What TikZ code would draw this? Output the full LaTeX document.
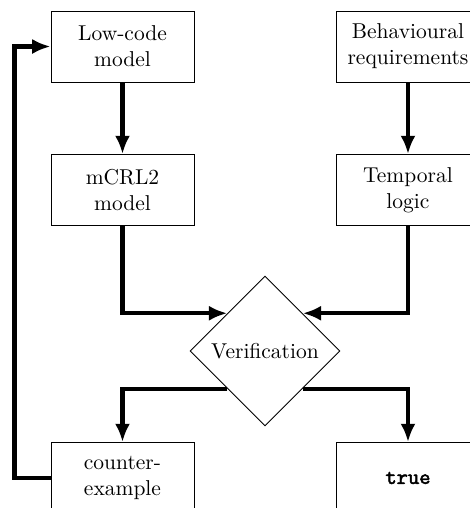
\documentclass[tikz,border=0pt]{standalone}
\usepackage{fontspec}
\newfontfamily\boldmono{Latin Modern Mono}[FakeBold=2.2]
\usetikzlibrary{shapes.geometric,arrows.meta}
\begin{document}
\begin{tikzpicture}[x=0.465pt,y=-0.465pt,
  stage/.style={draw, line width=0.45pt, minimum width=66.5pt, minimum height=33pt,
    align=center, inner sep=2pt, font=\normalsize},
  decision/.style={draw, diamond, aspect=1, line width=0.45pt, inner sep=0pt,
    minimum width=69.75pt, minimum height=69.75pt},
  flow/.style={line width=2pt, -{Latex[length=8.5pt,width=7pt]}}]
\useasboundingbox (0,0) rectangle (470,508);

\node[stage] (low)  at (122.5,46.5) {Low-code\\model};
\node[stage] (mcrl) at (122.5,190)  {mCRL2\\model};
\node[stage] (beh)  at (408,46.5)   {Behavioural\\requirements};
\node[stage] (tmp)  at (408,190)    {Temporal\\logic};
\node[decision] (ver) at (265,351)  {Verification};
\node[stage] (ce)   at (122.5,478)  {counter-\\example};
\node[stage] (ok)   at (408,478)    {\boldmono true};

\draw[flow] (low) -- (mcrl);
\draw[flow] (beh) -- (tmp);
\draw[flow] (mcrl.south) |- (ver.north west);
\draw[flow] (tmp.south) |- (ver.north east);
\draw[flow] (ver.south west) -| (ce.north);
\draw[flow] (ver.south east) -| (ok.north);
\draw[flow] (ce.west) -- ++(-36,0) |- (low.west);
\end{tikzpicture}
\end{document}
